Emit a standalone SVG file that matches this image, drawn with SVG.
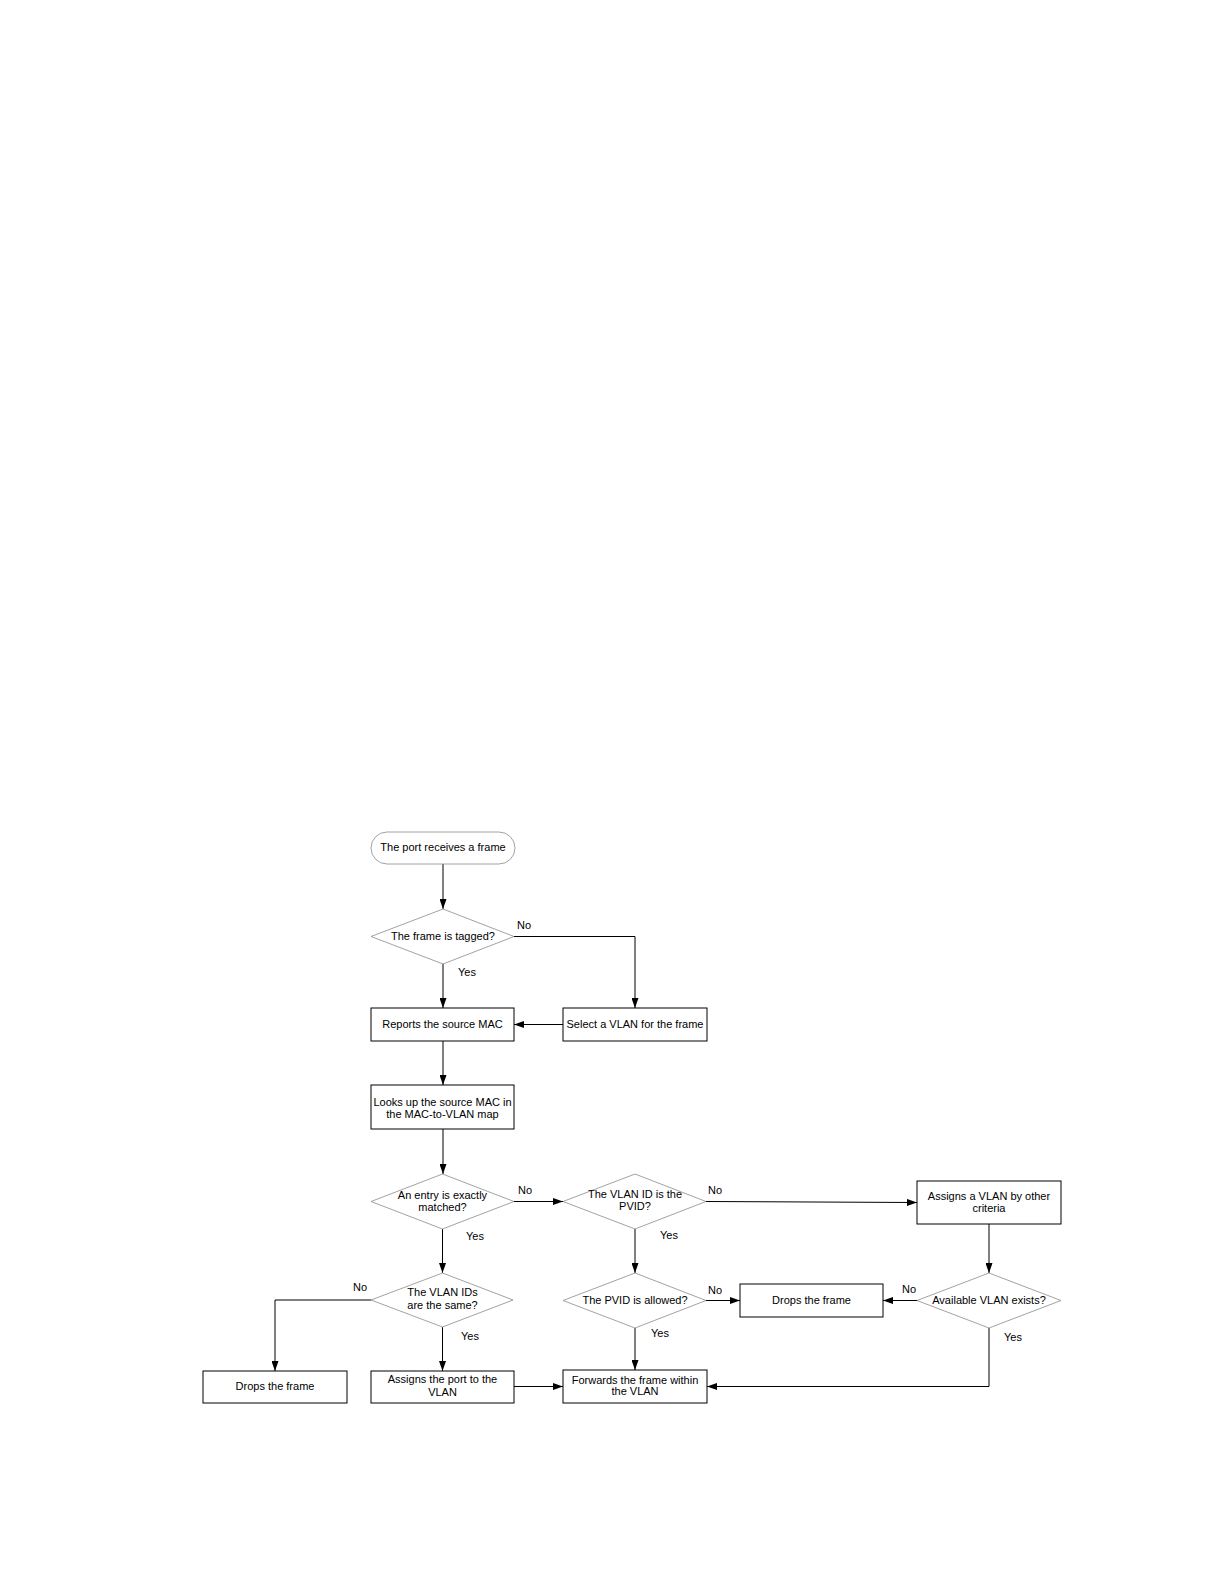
<svg xmlns="http://www.w3.org/2000/svg" width="1224" height="1584" viewBox="0 0 1224 1584">
<style>
text{font-family:"Liberation Sans",Arial,sans-serif;font-size:11px;fill:#000}
.c{text-anchor:middle}
.box{fill:#fff;stroke:#000;stroke-width:1}
.dia{fill:#fff;stroke:#8a8a8a;stroke-width:0.8}
.term{fill:#fff;stroke:#8a8a8a;stroke-width:0.8}
.ln{fill:none;stroke:#000;stroke-width:1;marker-end:url(#arr)}
</style>
<defs>
<marker id="arr" markerWidth="10" markerHeight="7" refX="10" refY="3.5" orient="auto" markerUnits="userSpaceOnUse"><path d="M0,0 L10,3.5 L0,7 z" fill="#000"/></marker>
</defs>
<rect width="1224" height="1584" fill="#fff"/>
<g id="connectors">
<path class="ln" d="M443,864 V909"/>
<path class="ln" d="M443,964 V1008"/>
<path class="ln" d="M514,936.5 H635 V1008"/>
<path class="ln" d="M563,1024.5 H514"/>
<path class="ln" d="M443,1041 V1085"/>
<path class="ln" d="M443,1129 V1174"/>
<path class="ln" d="M514,1201.5 H563"/>
<path class="ln" d="M706,1201.5 L917,1202.5"/>
<path class="ln" d="M442.5,1229 V1273"/>
<path class="ln" d="M635,1229 V1273"/>
<path class="ln" d="M989,1224 V1273"/>
<path class="ln" d="M371,1300 H275 V1371"/>
<path class="ln" d="M442.5,1327 V1371"/>
<path class="ln" d="M706,1300.5 H740"/>
<path class="ln" d="M917,1300.5 H883"/>
<path class="ln" d="M635,1328 V1370"/>
<path class="ln" d="M514,1386.5 H563"/>
<path class="ln" d="M989,1328 V1386.5 H707"/>
<text x="517" y="929">No</text>
<text x="458" y="976">Yes</text>
<text x="518" y="1194">No</text>
<text x="708" y="1194">No</text>
<text x="466" y="1240">Yes</text>
<text x="660" y="1239">Yes</text>
<text x="353" y="1291">No</text>
<text x="461" y="1340">Yes</text>
<text x="708" y="1294">No</text>
<text x="902" y="1293">No</text>
<text x="651" y="1337">Yes</text>
<text x="1004" y="1341">Yes</text>
</g>
<g id="start"><rect class="term" x="371" y="832" width="144" height="32" rx="16"/><text class="c" x="443" y="851">The port receives a frame</text></g>
<g id="tagged"><polygon class="dia" points="443,909 514,936.5 443,964 371,936.5"/><text class="c" x="443" y="940">The frame is tagged?</text></g>
<g id="reports"><rect class="box" x="371" y="1008" width="143" height="33"/><text class="c" x="442.5" y="1028">Reports the source MAC</text></g>
<g id="select"><rect class="box" x="563" y="1008" width="144" height="33"/><text class="c" x="635" y="1028">Select a VLAN for the frame</text></g>
<g id="lookup"><rect class="box" x="371" y="1085" width="143" height="44"/><text class="c" x="442.5" y="1105.5">Looks up the source MAC in</text><text class="c" x="442.5" y="1117.5">the MAC-to-VLAN map</text></g>
<g id="entry"><polygon class="dia" points="442.5,1174 514,1201.5 442.5,1229 371,1201.5"/><text class="c" x="442.5" y="1198.5">An entry is exactly</text><text class="c" x="442.5" y="1211">matched?</text></g>
<g id="ispvid"><polygon class="dia" points="635,1174 706,1201.5 635,1229 563,1201.5"/><text class="c" x="635" y="1197.5">The VLAN ID is the</text><text class="c" x="635" y="1210">PVID?</text></g>
<g id="other"><rect class="box" x="917" y="1181" width="144" height="43"/><text class="c" x="989" y="1199.5">Assigns a VLAN by other</text><text class="c" x="989" y="1212">criteria</text></g>
<g id="same"><polygon class="dia" points="442.5,1273 513,1300 442.5,1327 371,1300"/><text class="c" x="442.5" y="1296">The VLAN IDs</text><text class="c" x="442.5" y="1308.5">are the same?</text></g>
<g id="allowed"><polygon class="dia" points="635,1273 706,1300.5 635,1328 563,1300.5"/><text class="c" x="635" y="1304">The PVID is allowed?</text></g>
<g id="drops2"><rect class="box" x="740" y="1284" width="143" height="33"/><text class="c" x="811.5" y="1304">Drops the frame</text></g>
<g id="exists"><polygon class="dia" points="989,1273 1061,1300.5 989,1328 917,1300.5"/><text class="c" x="989" y="1304">Available VLAN exists?</text></g>
<g id="drops1"><rect class="box" x="203" y="1371" width="144" height="32"/><text class="c" x="275" y="1390">Drops the frame</text></g>
<g id="assignport"><rect class="box" x="371" y="1371" width="143" height="32"/><text class="c" x="442.5" y="1383">Assigns the port to the</text><text class="c" x="442.5" y="1395.5">VLAN</text></g>
<g id="forwards"><rect class="box" x="563" y="1370" width="144" height="33"/><text class="c" x="635" y="1383.5">Forwards the frame within</text><text class="c" x="635" y="1395">the VLAN</text></g>
</svg>
